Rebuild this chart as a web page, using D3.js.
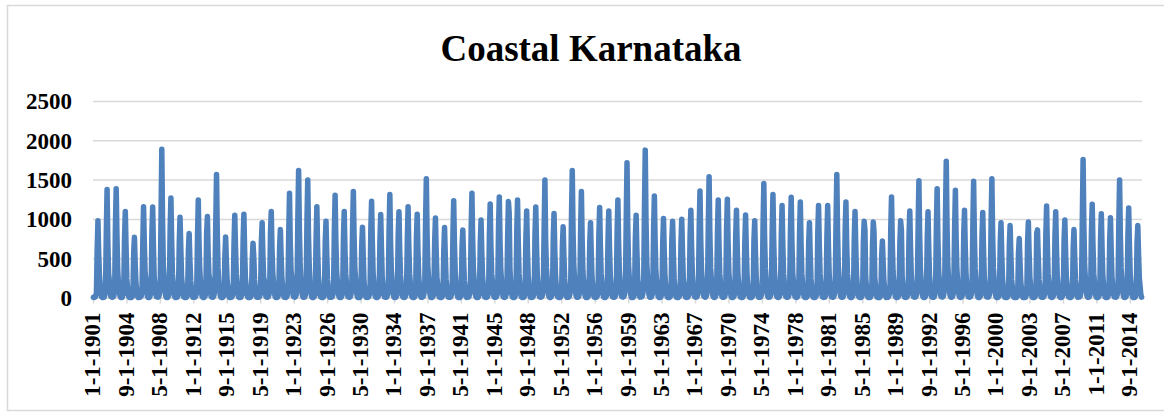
<!DOCTYPE html>
<html lang="en">
	<head>
		<meta charset="utf-8">
		<title>Coastal Karnataka</title>
		<script type="text/javascript" src="https://cdn.jsdelivr.net/npm/d3@7/dist/d3.min.js"></script>
		<style type="text/css">
			body {
				margin: 0;
				background-color: #ffffff;
			}
			text {
				font-family: "Liberation Serif", "Times New Roman", serif;
				font-weight: bold;
				fill: #000000;
			}
		</style>
	</head>
	<body>

		<script type="text/javascript">

			//Width and height
			var w = 1164;
			var h = 414;

			//Monthly rainfall (mm), one value per year 1901..2015
			var firstYear = 1901;
			var lastYear = 2015;

			var jan = [2,0,5,1,0,3,0,8,1,0, 0,4,1,6,0,2,0,1,3,5, 0,2,7,3,1,0,4,0,5,0, 3,1,4,0,2,0,9,1,0,3,
				0,5,1,2,4,3,0,1,2,6, 1,0,7,4,0,2,1,3,8,0, 10,3,0,0,1,2,5,6,2,3, 1,0,0,5,3,2,4,2,0,1,
				2,6,3,1,0,0,0,4,1,2, 5,1,4,9,4,2,6,1,7,0, 0,0,1,0,3,2,1,0,8,3, 1,0,5,2,0];
			var feb = [0,1,3,0,0,2,0,4,0,1, 0,2,0,3,0,1,0,0,2,3, 0,1,4,2,0,0,3,0,2,0, 1,0,2,0,1,0,5,0,0,2,
				0,3,0,1,2,1,0,0,1,4, 0,0,3,2,0,1,0,2,5,0, 6,2,0,0,0,1,3,4,1,2, 0,0,0,3,2,1,2,1,0,0,
				1,4,2,0,0,0,0,2,0,1, 3,0,2,6,2,1,4,0,4,0, 0,0,0,0,2,1,0,0,5,2, 0,0,3,1,0];
			var mar = [4,2,8,3,1,6,2,12,3,2, 1,7,3,10,0,4,2,1,5,8, 2,5,11,6,3,1,7,2,9,0, 6,3,8,2,5,1,13,3,1,7,
				0,9,2,4,7,6,3,2,4,10, 3,1,12,8,1,5,3,6,14,2, 15,7,2,1,3,4,9,11,5,6, 4,2,1,10,7,5,6,5,1,4,
				3,11,6,3,1,2,0,8,2,4, 9,3,8,14,9,4,10,3,12,1, 1,0,2,1,6,4,3,1,13,7, 3,2,10,5,1];
			var apr = [15,30,25,40,10,20,35,50,25,15, 10,30,20,45,15,25,30,10,20,35, 15,25,40,35,20,10,30,25,45,10,
				30,20,35,25,30,15,50,20,15,35, 10,40,20,25,30,35,20,15,25,40, 20,15,45,30,15,25,20,30,50,15,
				55,30,20,15,20,25,35,40,30,25, 25,20,15,40,30,25,30,25,15,25, 20,45,30,20,15,20,10,35,15,25,
				40,20,35,50,35,25,40,20,45,15, 15,10,20,15,30,25,20,15,50,30, 20,20,40,25,15];
			var may = [60,120,90,150,40,110,80,180,130,70, 50,140,100,210,60,90,120,40,80,150, 70,130,190,160,100,60,140,90,170,50,
				120,80,150,100,130,70,200,90,60,140, 50,160,80,110,140,120,100,90,110,170, 80,60,190,150,70,120,90,130,200,80,
				220,140,70,60,90,100,150,180,120,130, 100,80,70,170,140,110,130,120,60,110, 100,180,120,90,70,80,40,140,70,100,
				160,90,150,210,150,100,170,90,180,60, 60,40,80,70,120,100,80,60,200,120, 90,80,170,110,70];
			var jun = [610,820,900,760,560,690,830,1020,880,710, 600,780,820,940,520,690,740,480,700,830,
				640,810,1010,990,760,700,850,780,900,650, 870,740,860,800,720,770,950,720,610,800,
				650,880,700,810,900,780,850,760,820,880, 770,660,1050,870,690,800,720,840,1000,760,
				1150,870,700,740,690,790,900,960,820,880, 780,700,730,930,860,800,840,810,690,830,
				780,960,850,770,720,680,530,880,700,790, 920,760,900,1060,880,810,940,770,960,700,
				680,560,710,820,800,780,730,640,1010,830, 760,720,940,790,700];
			var jul = [975,1375,1385,1095,765,1155,1150,1885,1265,1020, 815,1240,1030,1565,770,1045,1060,690,950,1095,
				865,1325,1615,1495,1155,970,1300,1095,1350,895, 1225,1055,1310,1090,1155,1060,1510,1010,890,1230,
				860,1325,985,1190,1280,1220,1240,1100,1150,1495, 1070,900,1615,1350,950,1145,1100,1240,1715,1045,
				1875,1290,1005,970,995,1110,1355,1535,1240,1250, 1110,1050,975,1450,1310,1170,1275,1215,950,1170,
				1170,1565,1215,1095,970,960,720,1280,975,1100, 1485,1090,1385,1735,1365,1110,1480,1080,1510,950,
				915,750,960,860,1165,1090,985,865,1755,1185, 1065,1015,1495,1140,915];
			var aug = [560,720,800,640,430,700,650,980,720,640, 470,690,560,820,450,640,590,520,540,610,
				520,700,880,790,620,560,730,600,760,540, 700,620,690,600,650,590,800,580,520,680,
				500,720,570,660,700,1080,690,620,640,730, 610,530,850,740,560,650,630,690,900,600,
				980,720,580,560,590,640,750,820,690,700, 640,600,570,780,720,660,700,680,560,660,
				650,840,690,630,860,820,440,700,860,630, 800,620,760,920,750,640,800,620,810,560,
				540,450,570,520,660,620,580,520,930,670, 610,590,800,650,540];
			var sep = [280,310,350,240,190,330,260,410,300,270, 220,340,290,380,210,300,250,230,260,320,
				240,350,420,390,280,230,330,300,360,210, 320,260,340,290,310,270,400,250,230,330,
				220,350,260,310,340,360,300,280,290,380, 270,240,410,330,250,300,280,320,430,260,
				450,330,260,240,250,290,350,380,310,320, 280,260,250,370,330,300,320,310,240,300,
				290,390,310,280,260,250,200,330,270,290, 360,280,340,420,350,290,370,270,380,240,
				230,200,250,230,300,280,260,230,420,310, 270,260,380,290,240];
			var oct = [150,210,180,120,90,240,170,260,190,160, 110,200,230,170,130,180,150,120,210,190,
				140,250,220,180,160,130,200,170,230,110, 190,150,210,160,180,140,240,170,120,200,
				130,220,160,190,210,180,170,150,160,230, 140,120,240,200,150,180,160,190,250,140,
				260,200,150,130,170,160,210,230,180,190, 170,150,140,220,200,180,190,170,130,180,
				160,230,190,150,140,150,120,200,160,170, 210,160,200,250,210,170,220,160,230,140,
				130,110,150,140,180,160,150,130,240,190, 160,150,220,170,140];
			var nov = [40,70,90,30,20,80,50,110,60,45, 30,75,60,95,25,55,40,35,65,70, 35,85,100,80,50,30,70,55,90,25,
				60,40,75,50,65,35,105,45,30,70, 25,80,45,60,75,65,55,40,50,95, 45,30,110,80,35,60,50,70,120,40,
				125,75,40,30,45,55,85,100,60,70, 55,40,35,90,75,60,70,65,30,60, 55,100,65,50,35,40,20,75,40,55,
				85,50,80,115,85,55,95,50,100,30, 30,20,40,35,65,55,45,30,110,65, 50,45,95,60,35];
			var dec = [5,12,20,3,0,15,8,25,10,6, 2,14,9,22,1,7,5,3,11,16, 4,18,24,13,6,2,15,8,19,1,
				10,5,16,7,12,4,26,6,3,14, 2,17,6,9,13,11,8,4,7,21, 6,3,23,15,2,10,7,12,28,5,
				30,14,5,2,6,9,18,22,11,13, 8,5,3,19,14,10,12,11,2,9, 7,21,12,6,3,4,1,14,5,8,
				17,6,15,27,16,8,20,7,24,2, 3,1,5,4,12,9,6,3,25,13, 7,5,19,10,4];

			var months = [jan, feb, mar, apr, may, jun, jul, aug, sep, oct, nov, dec];

			//Y axis tick labels
			var yTicks = [0, 500, 1000, 1500, 2000, 2500];
			//one x label every 44 months
			var labelEvery = 44;

			//Build the monthly series: category "M-1-YYYY" and value
			var dataset = [];
			for (var y = firstYear; y <= lastYear; y++) {
				for (var m = 0; m < 12; m++) {
					dataset.push({
						label: (m + 1) + "-1-" + y,
						value: months[m][y - firstYear]
					});
				}
			}

			var plotLeft = 93, plotRight = 1142, plotTop = 101, plotBottom = 297.5;

			var xScale = d3.scaleBand()
						.domain(dataset.map(function(d) { return d.label; }))
						.range([plotLeft, plotRight])
						.padding(0);

			var yScale = d3.scaleLinear()
						.domain([0, 2500])
						.range([plotBottom, plotTop]);

			var svg = d3.select("body")
						.append("svg")
						.attr("width", w)
						.attr("height", h);

			//chart border
			svg.append("rect")
				.attr("x", 7.5)
				.attr("y", 5.5)
				.attr("width", 1164)
				.attr("height", 405)
				.attr("fill", "#ffffff")
				.attr("stroke", "#d9d9d9")
				.attr("stroke-width", 1.5);

			//Title
			svg.append("text")
				.attr("x", 591)
				.attr("y", 61)
				.attr("text-anchor", "middle")
				.style("font-size", "37px")
				.text("Coastal Karnataka");

			//Gridlines
			var grid = svg.append("g")
				.attr("transform", "translate(" + plotLeft + ",0)")
				.call(d3.axisLeft(yScale).tickValues(yTicks).tickSize(-(plotRight - plotLeft)).tickFormat(""));
			grid.select(".domain").remove();
			grid.selectAll("line")
				.attr("stroke", "#d9d9d9")
				.attr("stroke-width", 1.5);

			//Y axis
			var yAxis = svg.append("g")
				.attr("transform", "translate(" + plotLeft + ",0)")
				.call(d3.axisLeft(yScale).tickValues(yTicks).tickFormat(d3.format("d")).tickSize(0).tickPadding(21));
			yAxis.select(".domain").remove();
			yAxis.selectAll("text")
				.style("font-size", "23px")
				.attr("dy", "0.34em");

			//X axis
			var xTicks = dataset.filter(function(d, i) { return i % labelEvery === 0; })
								.map(function(d) { return d.label; });
			var xAxis = svg.append("g")
				.attr("transform", "translate(0," + plotBottom + ")")
				.call(d3.axisBottom(xScale).tickValues(xTicks).tickSizeInner(6).tickSizeOuter(0));
			xAxis.select(".domain")
				.attr("stroke", "#d9d9d9")
				.attr("stroke-width", 1.5);
			xAxis.selectAll("line")
				.attr("stroke", "#d9d9d9")
				.attr("stroke-width", 1.5);
			xAxis.selectAll("text")
				.style("font-size", "23px")
				.style("text-anchor", "end")
				.attr("transform", "rotate(-90)")
				.attr("x", -15)
				.attr("y", 0)
				.attr("dy", "0.3em");

			//Line
			var line = d3.line()
				.x(function(d) { return xScale(d.label) + xScale.bandwidth() / 2; })
				.y(function(d) { return yScale(d.value); });

			svg.append("path")
				.datum(dataset)
				.attr("d", line)
				.attr("fill", "none")
				.attr("stroke", "#4f81bd")
				.attr("stroke-width", 5.5)
				.attr("stroke-linejoin", "round")
				.attr("stroke-linecap", "round");

		</script>
	</body>
</html>
